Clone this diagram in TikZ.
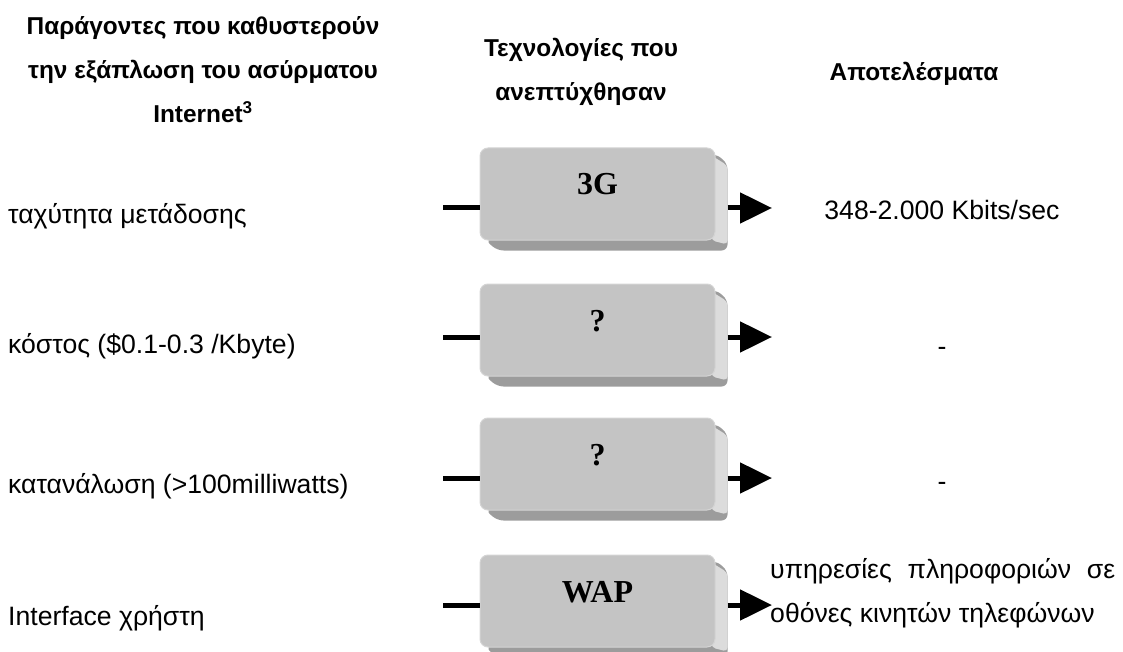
\documentclass[tikz,border=0pt]{standalone}
\usepackage{fontspec}
\setmainfont{Liberation Sans}
\newfontfamily\keyfont{Liberation Serif}
\usetikzlibrary{arrows.meta,calc,backgrounds}
\definecolor{keyface}{HTML}{C4C4C4}
\definecolor{keyedge}{HTML}{D4D4D4}
\definecolor{keyside}{HTML}{DCDCDC}
\definecolor{keydark}{HTML}{9C9C9C}

\begin{document}
\begin{tikzpicture}[
    x=1pt, y=-1pt,
    body/.style={font=\fontsize{26.6}{44}\selectfont, inner sep=0pt},
    head/.style={font=\fontsize{24.4}{44}\selectfont\bfseries, inner sep=0pt, align=center},
    techbox/.style={draw=keyedge, line width=1pt, fill=keyface, rounded corners=8pt,
                    minimum width=235pt, minimum height=92pt, inner sep=0pt,
                    text height=47pt, text depth=45pt,
                    font=\keyfont\fontsize{32}{36}\selectfont\bfseries},
    feed/.style={line width=5pt},
]
\useasboundingbox (0,0) rectangle (1123,652);

% =====================================================================
% column headings
% =====================================================================
\node[head] (h1) at (203,70) {Παράγοντες που καθυστερούν\\την εξάπλωση του ασύρματου\\Internet\textsuperscript{3}};
\node[head] (h2) at (581,72) {Τεχνολογίες που\\ανεπτύχθησαν};
\node[head] (h3) at (914,74) {Αποτελέσματα};

% =====================================================================
% keys with feeding line and output arrow
% =====================================================================
\foreach \tech/\yc/\ya [count=\n] in {3G/194/208, ?/330/337, ?/464/478, WAP/601/605} {
    \node[techbox] (t\n) at (597.5,\yc) {\tech};
    \coordinate (in\n) at (443,\ya);
    \coordinate (out\n) at (772,\ya);
    \draw[feed] (in\n) -- (in\n -| t\n.west);
    \draw[feed,-{Triangle[length=32pt,width=30pt]}]
        ($(t\n.east |- out\n)+(12,0)$) -- (out\n);
}

% depth of the keys
\begin{pgfonlayer}{background}
\foreach \n in {1,2,3,4} {
    \fill[keydark, rounded corners=6pt]
        ($(t\n.south west)+(6,0)$) -- ($(t\n.south west)+(18,10)$)
        -- ($(t\n.south east)+(12,10)$) -- ($(t\n.north east)+(12,16)$)
        -- ($(t\n.north east)+(0,6)$) -- cycle;
    \fill[keyside, rounded corners=4pt]
        ($(t\n.north east)+(-4,8)$) -- ($(t\n.north east)+(12,18)$)
        -- ($(t\n.south east)+(12,4)$) -- ($(t\n.south east)+(-4,0)$) -- cycle;
}
\end{pgfonlayer}

% =====================================================================
% factors (left) and results (right)
% =====================================================================
\node[body, anchor=base west] (f1) at (8,223) {ταχύτητα μετάδοσης};
\node[body, anchor=base west] (f2) at (8,353) {κόστος (\$0.1-0.3 /Kbyte)};
\node[body, anchor=base west] (f3) at (8,493) {κατανάλωση (>100milliwatts)};
\node[body, anchor=base west] (f4) at (8,625) {Interface χρήστη};

\node[body, anchor=base] (r1) at (942,219) {348-2.000 Kbits/sec};
\node[body, anchor=base] (r2) at (942,355) {-};
\node[body, anchor=base] (r3) at (942,490) {-};
\node[body, anchor=north west, text width=345pt, align=justify] (r4) at (770,558)
    {υπηρεσίες πληροφοριών σε οθόνες κινητών τηλεφώνων};

\end{tikzpicture}
\end{document}
